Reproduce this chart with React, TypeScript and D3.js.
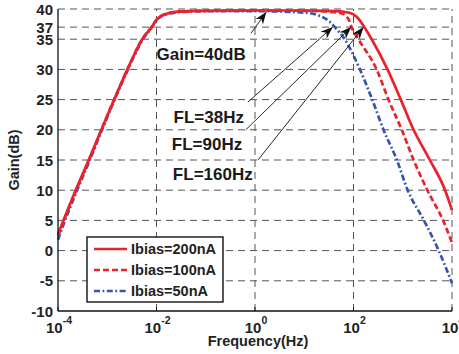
import React, { useEffect, useRef } from "react";
import * as d3 from "d3";

const W = 459;
const H = 354;

// values: frequency in Hz, gain in dB
const freq200 = [1e-4, 1.32e-4, 2.34e-4, 4.27e-4, 7.59e-4, 1.38e-3, 2.57e-3, 5.13e-3, 7.94e-3, 1e-2, 1.58e-2, 3.16e-2, 0.1, 1, 10, 31.6, 63.1, 100, 132, 166, 234, 490, 912, 1660, 3550, 7240, 1e4];
const gain200 = [2.7, 5.2, 10.2, 15.1, 20, 25, 30, 35, 37, 38.2, 39.2, 39.6, 39.7, 39.75, 39.75, 39.7, 39.55, 39.1, 38.2, 37, 35, 30, 25, 20, 15, 10, 6.7];

const freq100 = [1e-4, 1.32e-4, 2.34e-4, 4.27e-4, 7.59e-4, 1.38e-3, 2.57e-3, 5.13e-3, 7.94e-3, 1e-2, 1.58e-2, 3.16e-2, 0.1, 1, 10, 31.6, 56.2, 79.4, 91.2, 126, 295, 513, 955, 1660, 3160, 6760, 1e4];
const gain100 = [2.4, 5.0, 10.0, 15.0, 20, 25, 30, 35, 37, 38.2, 39.2, 39.6, 39.7, 39.75, 39.7, 39.55, 39.3, 38.3, 37, 35, 30, 25, 20, 15, 10, 4.8, 1.3];

const freq50 = [1e-4, 1.32e-4, 2.34e-4, 4.27e-4, 7.59e-4, 1.38e-3, 2.57e-3, 5.13e-3, 7.94e-3, 1e-2, 1.58e-2, 3.16e-2, 0.1, 1, 10, 20, 31.6, 41.7, 66.1, 135, 240, 407, 759, 1260, 2690, 5370, 1e4];
const gain50 = [1.8, 4.5, 9.6, 14.7, 19.7, 24.8, 29.8, 34.8, 36.9, 38.1, 39.1, 39.5, 39.65, 39.65, 39.4, 38.9, 38.0, 37, 35, 30, 25, 20, 15, 10, 5, 0, -5.4];

const seriesLabels = ["Ibias=200nA", "Ibias=100nA", "Ibias=50nA"];
const yTicks = [-10, -5, 0, 5, 10, 15, 20, 25, 30, 35, 37, 40];
const xTickExps = [-4, -2, 0, 2, 4];

// annotation anchors in data units (Hz, dB)
const flLabels = ["FL=38Hz", "FL=90Hz", "FL=160Hz"];
const flFreq = [38, 90, 160];
const flTextPos = [[0.0222, 21.1], [0.0205, 16.6], [0.0215, 11.7]];
const flLineFrom = [[0.72, 24.6], [0.65, 20.0], [1.15, 15.0]];

const RED = "#e9232b";
const BLUE = "#3456b0";
const FONT = "'Liberation Sans', Arial, Helvetica, sans-serif";

export default function App() {
  const svgRef = useRef<SVGSVGElement>(null);

  useEffect(() => {
    document.body.style.margin = "0";
    if (!svgRef.current) return;
    const svg = d3.select(svgRef.current);
    svg.selectAll("*").remove();

    const margin = { top: 9, right: 7, bottom: 43, left: 58 };
    const chartW = W - margin.left - margin.right;
    const chartH = H - margin.top - margin.bottom;

    const x = d3.scaleLog().domain([1e-4, 1e4]).range([0, chartW]);
    const y = d3.scaleLinear().domain([-10, 40]).range([chartH, 0]);

    const defs = svg.append("defs");
    defs.append("marker")
      .attr("id", "arrowhead")
      .attr("markerUnits", "userSpaceOnUse")
      .attr("markerWidth", 13).attr("markerHeight", 9)
      .attr("refX", 12).attr("refY", 4.5)
      .attr("orient", "auto")
      .append("path")
      .attr("d", "M0,0 L12,4.5 L0,9 L3.5,4.5 Z")
      .attr("fill", "#111");

    const g = svg.append("g").attr("transform", `translate(${margin.left},${margin.top})`);

    // grid
    const gridColor = "#555";
    yTicks.forEach((t) => {
      if (t === -10) return;
      g.append("line").attr("x1", 0).attr("x2", chartW).attr("y1", y(t)).attr("y2", y(t))
        .attr("stroke", gridColor).attr("stroke-width", 1).attr("stroke-dasharray", "7,5");
    });
    xTickExps.forEach((e) => {
      if (e === -4) return;
      g.append("line").attr("x1", x(10 ** e)).attr("x2", x(10 ** e)).attr("y1", chartH).attr("y2", 0)
        .attr("stroke", gridColor).attr("stroke-width", 1).attr("stroke-dasharray", "7,5");
    });

    // curves
    const series = [
      { f: freq50, g: gain50, color: BLUE, dash: "6,2.5,1.8,2.5" },
      { f: freq100, g: gain100, color: RED, dash: "6,3" },
      { f: freq200, g: gain200, color: RED, dash: null as string | null },
    ];
    const line = d3.line<[number, number]>()
      .x((d) => x(d[0]))
      .y((d) => y(d[1]))
      .curve(d3.curveMonotoneX);
    series.forEach((s) => {
      const pts = s.f.map((f, i) => [f, s.g[i]] as [number, number]);
      const p = g.append("path").datum(pts).attr("d", line)
        .attr("fill", "none").attr("stroke", s.color).attr("stroke-width", 2.7);
      if (s.dash) p.attr("stroke-dasharray", s.dash);
    });

    // annotations
    g.append("line")
      .attr("x1", x(0.83)).attr("y1", y(36))
      .attr("x2", x(1.7)).attr("y2", y(39.5))
      .attr("stroke", "#111").attr("stroke-width", 0.9).attr("marker-end", "url(#arrowhead)");
    g.append("text").attr("x", x(1e-2)).attr("y", y(31.6))
      .attr("font-family", FONT).attr("font-weight", "bold").attr("font-size", 17).attr("fill", "#1a1a1a")
      .text("Gain=40dB");

    flLabels.forEach((lab, i) => {
      g.append("line")
        .attr("x1", x(flLineFrom[i][0])).attr("y1", y(flLineFrom[i][1]))
        .attr("x2", x(flFreq[i])).attr("y2", y(37))
        .attr("stroke", "#111").attr("stroke-width", 0.9).attr("marker-end", "url(#arrowhead)");
      g.append("text").attr("x", x(flTextPos[i][0])).attr("y", y(flTextPos[i][1]))
        .attr("font-family", FONT).attr("font-weight", "bold").attr("font-size", 17).attr("fill", "#1a1a1a")
        .text(lab);
    });

    // axes (left + bottom solid)
    g.append("line").attr("x1", 0).attr("x2", 0).attr("y1", 0).attr("y2", chartH).attr("stroke", "#111").attr("stroke-width", 1.3);
    g.append("line").attr("x1", 0).attr("x2", chartW).attr("y1", chartH).attr("y2", chartH).attr("stroke", "#111").attr("stroke-width", 1.3);
    xTickExps.forEach((e) => {
      g.append("line").attr("x1", x(10 ** e)).attr("x2", x(10 ** e)).attr("y1", chartH).attr("y2", chartH - 4)
        .attr("stroke", "#111").attr("stroke-width", 1);
    });

    yTicks.forEach((t) => {
      g.append("text").attr("x", -5).attr("y", y(t) + 5.5)
        .attr("text-anchor", "end").attr("font-family", FONT).attr("font-weight", "bold")
        .attr("font-size", 15).attr("fill", "#222").text(String(t));
    });
    xTickExps.forEach((e) => {
      const t = g.append("text").attr("x", x(10 ** e) + 1).attr("y", chartH + 21.5)
        .attr("text-anchor", "middle").attr("font-family", FONT).attr("font-weight", "bold")
        .attr("font-size", 15).attr("fill", "#222");
      t.append("tspan").text("10");
      t.append("tspan").attr("dy", -9).attr("font-size", 10.5).text(String(e));
    });

    svg.append("text").attr("x", margin.left + chartW / 2 + 3).attr("y", H - 8)
      .attr("text-anchor", "middle").attr("font-family", FONT).attr("font-weight", "bold")
      .attr("font-size", 14.5).attr("fill", "#222").text("Frequency(Hz)");
    svg.append("text")
      .attr("transform", `translate(19,${margin.top + chartH / 2}) rotate(-90)`)
      .attr("text-anchor", "middle").attr("font-family", FONT).attr("font-weight", "bold")
      .attr("font-size", 14.5).attr("fill", "#222").text("Gain(dB)");

    // legend
    const lg = svg.append("g").attr("transform", "translate(87,237)");
    lg.append("rect").attr("width", 136).attr("height", 65)
      .attr("fill", "#fff").attr("stroke", "#111").attr("stroke-width", 1.4);
    const legendSeries = [series[2], series[1], series[0]];
    seriesLabels.forEach((lab, i) => {
      const yy = 12 + i * 21;
      const l = lg.append("line").attr("x1", 7).attr("x2", 40).attr("y1", yy).attr("y2", yy)
        .attr("stroke", legendSeries[i].color).attr("stroke-width", 2.7);
      if (legendSeries[i].dash) l.attr("stroke-dasharray", legendSeries[i].dash);
      lg.append("text").attr("x", 44).attr("y", yy + 5)
        .attr("font-family", FONT).attr("font-weight", "bold").attr("font-size", 14.5).attr("fill", "#222")
        .text(lab);
    });
  }, []);

  return <svg ref={svgRef} width={W} height={H} style={{ display: "block", background: "#fff" }} />;
}
